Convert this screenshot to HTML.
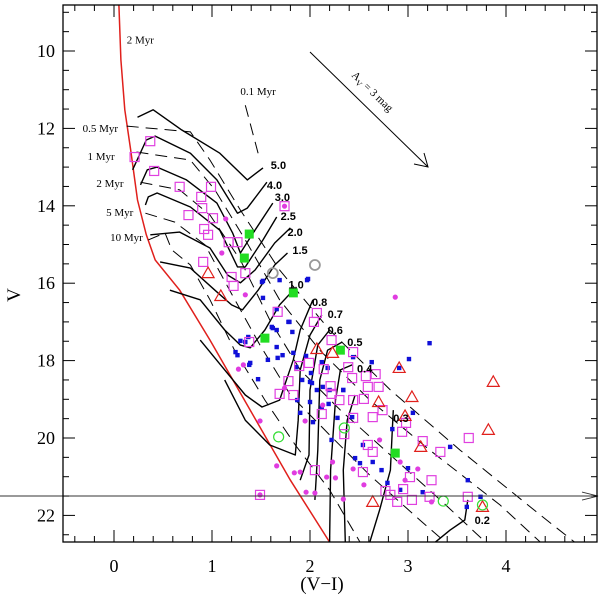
<!DOCTYPE html>
<html><head><meta charset="utf-8"><style>
html,body{margin:0;padding:0;background:#fff;}
svg{display:block;}
text{font-family:"Liberation Serif",serif;}
.ml{font-family:"Liberation Sans",sans-serif;font-size:11px;font-weight:bold;}
.al{font-size:11px;}
</style></head><body>
<svg id="chart" width="600" height="600" viewBox="0 0 600 600" xmlns="http://www.w3.org/2000/svg">
<defs><clipPath id="clip"><rect x="63" y="5" width="534" height="537"/></clipPath></defs>
<g id="marks" clip-path="url(#clip)"></g>
<g id="axes"></g>
</svg>
<script>
// ---- data (V-I, V) ----
const zamsVI=[0.05,0.07,0.11,0.17,0.24,0.33,0.42,0.67,0.98,1.39,1.80,2.20];
const zamsV=[8.81,10.23,11.52,12.56,13.85,14.75,15.40,16.18,17.47,19.28,21.09,22.69];
const trackNames=["5.0","4.0","3.0","2.5","2.0","1.5","1.0","0.8","0.7","0.6","0.5","0.4","0.35","0.3","0.2"];
const trackVI=[
[0.24,0.40,0.69,1.08,1.36,1.52],
[0.19,0.33,0.42,0.78,1.05,1.26,1.36,1.56],
[0.27,0.34,0.44,0.74,1.05,1.21,1.29,1.42,1.62],
[0.32,0.35,0.44,0.78,1.08,1.26,1.34,1.52,1.66],
[0.37,0.67,0.98,1.16,1.29,1.44,1.64,1.80],
[0.47,0.78,1.03,1.20,1.31,1.47,1.64,1.77],
[0.57,0.88,1.13,1.29,1.39,1.54,1.69,1.83],
[0.88,1.13,1.34,1.51,1.69,1.83,1.90,2.03],
[1.13,1.34,1.59,1.85,1.88,1.90,2.00,2.12],
[1.90,1.99,2.00,2.08,2.20],
[2.05,2.08,2.10,2.18,2.33],
[2.20,2.21,2.26,2.31,2.43],
[2.36,2.34,2.38,2.46],
[2.61,2.71,2.82,2.84,2.85],
[3.28,3.43,3.58,3.61]];
const trackV=[
[11.71,11.52,12.04,12.64,13.33,13.02],
[13.07,12.30,12.20,12.64,13.33,14.19,14.06,13.39],
[13.46,13.07,13.00,13.33,13.93,14.70,15.22,14.70,13.93],
[13.98,13.77,13.67,14.03,14.63,15.58,15.58,14.88,14.29],
[14.75,14.68,15.09,15.79,15.99,15.66,14.96,14.57],
[15.45,15.61,16.18,16.56,16.69,16.18,15.53,15.22],
[16.18,16.43,17.21,17.60,17.67,17.21,16.56,16.18],
[17.47,18.24,18.89,19.20,19.02,17.98,17.21,16.43],
[18.50,19.54,20.18,20.44,19.54,18.24,17.34,16.82],
[21.09,20.44,18.76,17.60,17.21],
[21.60,20.31,18.50,17.73,17.52],
[22.69,20.83,19.02,18.24,18.11],
[22.69,20.83,19.54,18.89],
[22.69,21.86,20.83,19.79,19.28],
[22.69,22.38,22.12,21.60]];
const isoVI=[
[1.34,1.47],
[0.13,0.78,0.98,1.29,1.69,2.20,2.82,3.53,4.35,4.70],
[0.23,0.78,1.03,1.34,1.69,2.10,2.61,3.22,3.94,4.35],
[0.27,0.67,0.98,1.29,1.59,1.90,2.31,2.82,3.33,3.79],
[0.32,0.62,0.93,1.18,1.49,1.80,2.20,2.61,3.12,3.38],
[0.35,0.52,0.59,0.78,0.98,1.23,1.54,1.85,2.20,2.51]];
const isoV=[
[11.40,12.64],
[11.94,12.09,12.82,14.11,15.66,17.21,18.76,20.31,21.99,22.69],
[12.61,12.82,13.59,14.88,16.43,17.73,19.02,20.31,21.73,22.69],
[13.39,13.59,14.24,15.40,16.95,18.24,19.28,20.44,21.60,22.69],
[14.19,14.42,15.01,16.18,17.60,18.89,19.92,20.96,22.12,22.69],
[14.88,14.70,15.14,15.53,16.43,17.73,19.02,20.18,21.34,22.69]];
const sqVI=[0.37,0.21,0.41,0.67,0.99,0.89,0.90,0.76,1.01,0.92,0.96,1.17,1.26,0.91,1.34,1.20,1.22,1.74,1.67,2.07,2.04,1.38,2.22,2.44,1.89,1.99,2.14,2.39,1.78,2.43,2.57,2.67,2.59,2.70,1.69,1.83,2.21,2.22,2.30,2.44,2.55,2.74,2.64,2.44,2.12,2.98,2.94,2.35,2.59,2.64,3.15,3.33,3.62,2.05,2.54,3.02,3.24,2.77,2.95,2.82,3.04,3.22,2.89,3.61,1.49];
const sqV=[12.33,12.74,13.10,13.51,13.51,13.77,14.06,14.24,14.32,14.60,14.75,14.94,14.94,15.45,15.74,15.84,16.07,14.01,16.74,16.77,17.00,17.52,17.47,17.78,18.14,18.06,18.22,18.17,18.53,18.45,18.40,18.35,18.68,18.68,18.86,18.89,18.66,18.86,19.02,19.02,18.99,19.28,19.46,19.48,19.38,19.61,19.84,19.90,20.18,20.36,20.08,20.36,20.00,20.83,20.88,21.01,21.09,21.37,21.32,21.47,21.60,21.52,21.65,21.52,21.47];
const blueVI=[1.52,1.69,1.98,1.52,1.66,1.79,1.62,1.66,1.82,1.37,1.34,1.24,1.66,1.72,1.83,1.57,1.38,1.47,1.86,1.92,2.02,2.01,2.07,2.13,2.20,2.34,2.19,2.00,2.12,1.87,1.97,1.51,1.78,1.61,1.29,1.26,1.39,1.67,1.96,2.12,2.18,2.44,2.63,3.01,3.22,3.05,2.84,3.43,2.54,2.46,2.51,2.64,2.73,2.79,3.00,2.92,3.15,3.61,3.74,3.60,2.22,2.28,2.43,2.03,1.90,2.34,2.00,2.91];
const blueV=[15.94,15.92,15.89,16.38,16.67,17.00,17.16,17.21,17.26,17.39,17.52,17.78,17.65,17.86,17.80,17.98,18.11,18.48,18.17,18.50,18.58,18.32,18.76,18.68,18.76,18.76,19.12,19.07,19.22,19.02,15.92,15.97,17.00,17.13,17.49,17.86,18.06,17.93,17.88,18.04,18.19,17.91,18.04,17.96,17.55,19.35,19.77,20.23,20.18,20.52,20.65,20.62,20.83,21.16,20.78,21.34,21.40,21.09,21.52,21.78,20.05,19.48,19.46,19.59,19.35,18.76,18.55,18.19];
const dotVI=[1.14,1.10,1.34,1.27,1.32,2.87,1.49,1.66,1.84,1.90,1.96,2.05,2.34,2.55,2.17,2.26,2.23,2.44,2.71,2.13,1.95,1.74,3.10,2.97,3.24,2.92,1.74,1.49];
const dotV=[14.34,15.22,16.30,18.22,18.11,16.36,19.56,20.72,20.90,20.88,21.40,21.42,21.58,21.21,21.01,21.03,20.62,20.80,20.05,19.15,19.56,18.71,20.80,21.09,21.65,20.62,14.01,21.47];
const triVI=[0.96,1.09,2.07,2.23,2.70,3.04,2.97,3.13,2.64,3.76,3.87,3.82,2.91];
const triV=[15.74,16.33,17.70,17.80,19.07,18.94,19.43,20.23,21.65,21.78,18.55,19.79,18.19];
const gsqVI=[1.38,1.33,1.54,1.83,2.31,2.87];
const gsqV=[14.73,15.35,17.42,16.25,17.73,20.39];
const gcVI=[1.68,2.35,3.36,3.76];
const gcV=[19.97,19.74,21.63,21.73];
const grayVI=[2.05,1.62];
const grayV=[15.53,15.74];
const limitV=21.5;
const xTicks=[0,1,2,3,4];
const yTicks=[10,12,14,16,18,20,22];
const massLabels=["5.0","4.0","3.0","2.5","2.0","1.5","1.0","0.8","0.7","0.6","0.5","0.4","0.3","0.2"];
const massLabVI=[1.60,1.56,1.64,1.70,1.77,1.82,1.78,2.02,2.18,2.18,2.38,2.48,2.85,3.68];
const massLabV=[12.94,13.46,13.77,14.26,14.68,15.14,16.04,16.49,16.80,17.21,17.52,18.20,19.48,22.12];
const ageLabels=["2 Myr","0.1 Myr","0.5 Myr","1 Myr","2 Myr","5 Myr","10 Myr"];
const ageLabVI=[0.13,1.29,-0.32,-0.27,-0.18,-0.08,-0.04];
const ageLabV=[9.70,11.04,11.99,12.71,13.41,14.16,14.80];

// ---- axes ----
const X=c=>114+98*c, Y=v=>51+38.7*(v-10);
const NS="http://www.w3.org/2000/svg";
const marks=document.getElementById('marks'), axes=document.getElementById('axes');
function mk(tag,attrs,parent){const e=document.createElementNS(NS,tag);for(const k in attrs)e.setAttribute(k,attrs[k]);parent.appendChild(e);return e;}
function pts(a,b){return a.map((c,i)=>X(c).toFixed(1)+','+Y(b[i]).toFixed(1)).join(' ');}

let e;
e=mk('polyline',{points:pts(zamsVI,zamsV),fill:'none',stroke:'#e0201c','stroke-width':1.5},marks);


isoVI.forEach((a,i)=>{
  const p=mk('polyline',{points:pts(a,isoV[i]),fill:'none',stroke:'#000','stroke-width':1,'stroke-dasharray':'12,7'},marks);
  
  
});
trackVI.forEach((a,i)=>{
  const p=mk('polyline',{points:pts(a,trackV[i]),fill:'none',stroke:'#000','stroke-width':1.4,'stroke-linejoin':'round'},marks);
  
  
});
blueVI.forEach((c,i)=>{
  const r=mk('rect',{x:X(c)-2.2,y:Y(blueV[i])-2.2,width:4.4,height:4.4,fill:'#1010d8'},marks);
  
  
});
dotVI.forEach((c,i)=>{
  const r=mk('circle',{cx:X(c),cy:Y(dotV[i]),r:2.6,fill:'#e03ce0'},marks);
  
  
});
sqVI.forEach((c,i)=>{
  const r=mk('rect',{x:X(c)-4.5,y:Y(sqV[i])-4.5,width:9,height:9,fill:'none',stroke:'#e040e0','stroke-width':1.2},marks);
  
  
});
gsqVI.forEach((c,i)=>{
  const r=mk('rect',{x:X(c)-4.5,y:Y(gsqV[i])-4.5,width:9,height:9,fill:'#22dd22'},marks);
  
  
});
grayVI.forEach((c,i)=>{
  const r=mk('circle',{cx:X(c),cy:Y(grayV[i]),r:5,fill:'none',stroke:'#999','stroke-width':1.8},marks);
  
  
});
triVI.forEach((c,i)=>{
  const x=X(c),y=Y(triV[i]);
  const r=mk('polygon',{points:`${x-6},${y+4.5} ${x+6},${y+4.5} ${x},${y-6}`,fill:'none',stroke:'#e0201c','stroke-width':1.2},marks);
  
  
});
gcVI.forEach((c,i)=>{
  const r=mk('circle',{cx:X(c),cy:Y(gcV[i]),r:5,fill:'none',stroke:'#33dd33','stroke-width':1.2},marks);
  
  
});
massLabels.forEach((t,i)=>{
  const r=mk('text',{x:X(massLabVI[i]),y:Y(massLabV[i])+4,class:'ml'},marks);
  r.textContent=t;
  
  
});
ageLabels.forEach((t,i)=>{
  const r=mk('text',{x:X(ageLabVI[i]),y:Y(ageLabV[i])+4,class:'al'},marks);
  r.textContent=t;
  
  
});
// extinction arrow
e=mk('line',{x1:310,y1:52,x2:428,y2:167,stroke:'#000','stroke-width':1},marks);


mk('polyline',{points:'414,164 428,167 424,153',fill:'none',stroke:'#000','stroke-width':1},marks);
e=mk('text',{x:0,y:0,'font-size':'11','text-anchor':'middle',transform:'translate(370,94) rotate(44)'},marks);
e.innerHTML='A<tspan font-size="8" dy="3">V</tspan><tspan dy="-3"> = 3 mag</tspan>';


// limit line
e=mk('line',{x1:0,y1:Y(limitV),x2:598,y2:Y(limitV),stroke:'#333','stroke-width':1},axes);


mk('polyline',{points:`582,${Y(limitV)-4} 598,${Y(limitV)} 582,${Y(limitV)+4}`,fill:'none',stroke:'#333','stroke-width':1},axes);
// frame
e=mk('rect',{x:63,y:5,width:534,height:537,fill:'none',stroke:'#000','stroke-width':1.3},axes);


// ticks
for(let k=-2;k<=24;k++){const c=k*0.2,x=X(c);if(x<64||x>596)continue;const maj=k%5===0;const L=maj?12:6;
  mk('line',{x1:x,y1:542,x2:x,y2:542-L,stroke:'#000','stroke-width':1},axes);
  mk('line',{x1:x,y1:5,x2:x,y2:5+L,stroke:'#000','stroke-width':1},axes);}
for(let k=17;k<=46;k++){const v=k*0.5,y=Y(v);if(y<6||y>541)continue;const maj=k%4===0;const L=maj?12:6;
  mk('line',{x1:63,y1:y,x2:63+L,y2:y,stroke:'#000','stroke-width':1},axes);
  mk('line',{x1:597,y1:y,x2:597-L,y2:y,stroke:'#000','stroke-width':1},axes);}
xTicks.forEach(t=>{const r=mk('text',{x:X(t),y:572,'font-size':'18','text-anchor':'middle'},axes);r.textContent=t;
  
  });
yTicks.forEach(t=>{const r=mk('text',{x:55,y:Y(t)+6,'font-size':'18','text-anchor':'end'},axes);r.textContent=t;
  
  });
e=mk('text',{x:322,y:590,'font-size':'19','text-anchor':'middle'},axes);e.textContent='(V\u2212I)';


e=mk('text',{x:0,y:0,'font-size':'19','text-anchor':'middle',transform:'translate(20,295) rotate(-90)'},axes);e.textContent='V';


</script>
</body></html>
